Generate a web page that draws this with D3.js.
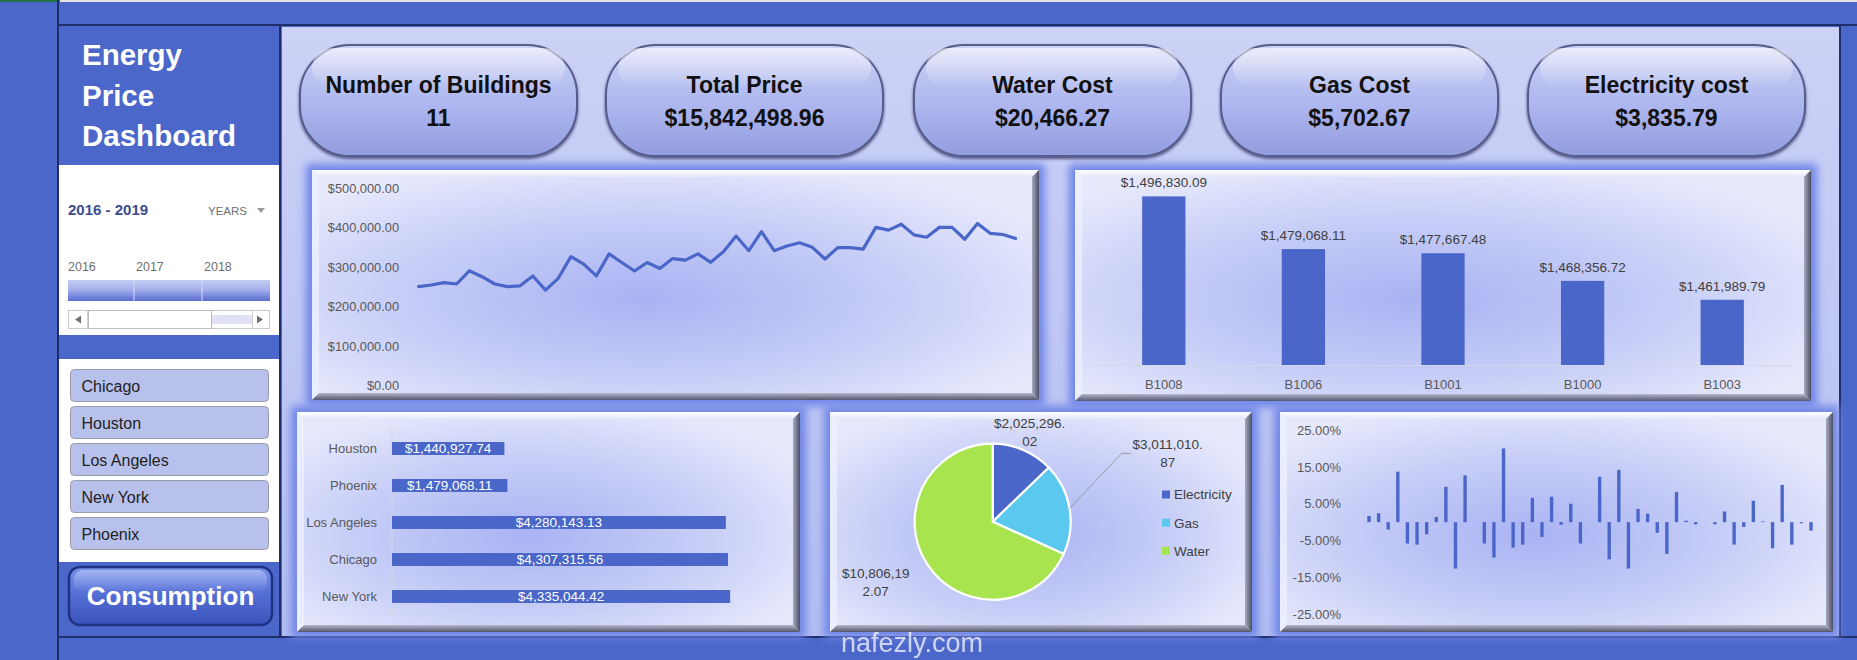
<!DOCTYPE html>
<html>
<head>
<meta charset="utf-8">
<script src="https://cdn.jsdelivr.net/npm/d3@7"></script>
<style>
    html, body { margin: 0; padding: 0; background: #4b67c9; overflow: hidden; }
    svg { display: block; }
    text { font-family: "Liberation Sans", Arial, sans-serif; }
</style>
</head>
<body>
<div id="dash"></div>
<script>
// ---------- data ----------
const kpiTitles = ["Number of Buildings", "Total Price", "Water Cost", "Gas Cost", "Electricity cost"];
const kpiValues = [11, 15842498.96, 20466.27, 5702.67, 3835.79];

const cityButtons = ["Chicago", "Houston", "Los Angeles", "New York", "Phoenix"];
const timelineYears = ["2016", "2017", "2018"];
const periodLabel = "2016 - 2019";

// monthly total price, Jan 2016 .. Dec 2019
const monthlyPrice = [
    251000, 255000, 261000, 257600, 291000, 276000, 257600, 251000, 253000, 278000, 242000, 272000,
    327000, 308000, 278000, 334000, 312000, 290500, 312000, 297000, 322000, 318000, 334000, 312500,
    339500, 379000, 342000, 390000, 342000, 354000, 362000, 350500, 321000, 349700, 349700, 346000,
    401000, 394000, 409000, 382000, 376000, 401000, 401000, 371000, 411000, 386000, 383000, 373000
];
const priceTicks = [0, 100000, 200000, 300000, 400000, 500000];

const buildings = ["B1008", "B1006", "B1001", "B1000", "B1003"];
const buildingPrice = [1496830.09, 1479068.11, 1477667.48, 1468356.72, 1461989.79];
const buildingRange = [1440000, 1500000];

const cities = ["Houston", "Phoenix", "Los Angeles", "Chicago", "New York"];
const cityPrice = [1440927.74, 1479068.11, 4280143.13, 4307315.56, 4335044.42];
const cityRange = [0, 5000000];

const costTypes = ["Electricity", "Gas", "Water"];
const costTotals = [2025296.02, 3011010.87, 10806192.07];
const costColors = ["#4a66c8", "#5bc9ef", "#a8e44e"];

// month over month change in %, Feb 2016 .. Dec 2019 (January left blank)
const monthlyChange = [
    1.7, 2.4, -2.0, 13.7, -5.8, -6.1, -3.3, 1.4, 9.6, -12.6, 12.7,
    0, -5.8, -9.6, 20.0, -6.9, -6.1, 6.6, -4.0, 6.9, -0.7, 5.0, -5.8,
    0, 12.3, -10.1, 14.2, -12.6, 3.6, 2.3, -2.9, -8.6, 8.2, 0.4, -0.6,
    0, -0.6, 2.9, -6.1, -1.3, 5.8, 0.2, -7.1, 10.1, -6.1, -0.3, -2.3
];
const changeTicks = [25, 15, 5, -5, -15, -25];

// ---------- setup ----------
const W = 1857, H = 660;
const blue = "#4a66c8";
const axisGray = "#595959";
// Excel writes a plain hyphen for negatives
const locale = d3.formatLocale({ decimal: ".", thousands: ",", grouping: [3], currency: ["$", ""], minus: "-" });
const money = locale.format("$,.2f");
const pct = d => locale.format(".2f")(d) + "%";

const svg = d3.select("#dash").append("svg")
    .attr("width", W)
    .attr("height", H);

const defs = svg.append("defs");

function linear(id, stops, vertical = true) {
    const g = defs.append("linearGradient").attr("id", id)
        .attr("x1", 0).attr("y1", 0)
        .attr("x2", vertical ? 0 : 1).attr("y2", vertical ? 1 : 0);
    stops.forEach(([o, c, op]) => g.append("stop").attr("offset", o).attr("stop-color", c)
        .attr("stop-opacity", op == null ? 1 : op));
}

linear("mainBg", [[0, "#ccd2f6"], [1, "#b3bdf1"]]);
linear("bevelTop", [[0, "#ffffff"], [1, "#e3e7fb"]]);
linear("bevelBottom", [[0, "#b4b7cf"], [1, "#535569"]]);
linear("bevelRight", [[0, "#a7aac3"], [1, "#4c4e62"]], false);
linear("kpiFill", [[0, "#ccd2f6"], [0.55, "#adb6ee"], [1, "#929ddf"]]);
linear("kpiGloss", [[0, "#ffffff", 0.6], [1, "#ffffff", 0]]);
linear("timelineFill", [[0, "#c6ccf3"], [0.45, "#a6b0ec"], [1, "#586dd0"]]);
linear("btnFill", [[0, "#7892ec"], [0.5, "#526dd4"], [1, "#3a53bb"]]);
linear("btnGloss", [[0, "#ffffff", 0.35], [1, "#ffffff", 0]]);

const rg = defs.append("radialGradient").attr("id", "panelFill")
    .attr("cx", 0.46).attr("cy", 0.56).attr("r", 0.62);
rg.append("stop").attr("offset", 0).attr("stop-color", "#a9b3f3");
rg.append("stop").attr("offset", 0.55).attr("stop-color", "#c6cdf7");
rg.append("stop").attr("offset", 1).attr("stop-color", "#e6e9fc");

defs.append("filter").attr("id", "glow")
    .attr("x", -0.1).attr("y", -0.1).attr("width", 1.2).attr("height", 1.2)
    .append("feGaussianBlur").attr("stdDeviation", 4);

defs.append("filter").attr("id", "cardShadow")
    .attr("x", -0.1).attr("y", -0.1).attr("width", 1.2).attr("height", 1.3)
    .append("feDropShadow").attr("dx", 0).attr("dy", 2).attr("stdDeviation", 1.6)
    .attr("flood-color", "#262c5c").attr("flood-opacity", 0.75);

// ---------- frame ----------
svg.append("rect").attr("width", W).attr("height", H).attr("fill", "#4b67c9");
svg.append("rect").attr("width", W).attr("height", 2).attr("fill", "#e4e4e4");
svg.append("rect").attr("width", 60).attr("height", 2).attr("fill", "#217346");

// main light area
svg.append("rect").attr("x", 282).attr("y", 27).attr("width", 1558).attr("height", 610)
    .attr("fill", "url(#mainBg)");

const frameLines = [
    [58, 0, 58, H], [58, 25, 1857, 25], [280, 25, 280, 637], [58, 637, 1857, 637], [1840, 25, 1840, 637]
];
svg.selectAll("line.frame").data(frameLines).join("line")
    .attr("class", "frame")
    .attr("x1", d => d[0]).attr("y1", d => d[1]).attr("x2", d => d[2]).attr("y2", d => d[3])
    .attr("stroke", "#1f2d6c").attr("stroke-width", 2);

// ---------- sidebar ----------
const side = svg.append("g");

side.selectAll("text.title").data(["Energy", "Price", "Dashboard"]).join("text")
    .attr("class", "title")
    .attr("x", 82).attr("y", (d, i) => 65 + i * 40.5)
    .attr("fill", "#fff").attr("font-size", 29.5).attr("font-weight", 700)
    .text(d => d);

side.append("rect").attr("x", 59).attr("y", 165).attr("width", 220).attr("height", 170).attr("fill", "#fff");
side.append("rect").attr("x", 59).attr("y", 359).attr("width", 220).attr("height", 203).attr("fill", "#fff");

side.append("text").attr("x", 68).attr("y", 215)
    .attr("font-size", 15).attr("font-weight", 700).attr("fill", "#3d4c8e")
    .text(periodLabel);
side.append("text").attr("x", 208).attr("y", 215)
    .attr("font-size", 11.5).attr("fill", "#707070").text("YEARS");
side.append("path").attr("d", "M257,208 L265,208 L261,213 Z").attr("fill", "#9a9a9a");

side.selectAll("text.year").data(timelineYears).join("text")
    .attr("class", "year")
    .attr("x", (d, i) => 68 + i * 68).attr("y", 271)
    .attr("font-size", 12.5).attr("fill", "#6f6f6f")
    .text(d => d);

side.append("rect").attr("x", 68).attr("y", 280).attr("width", 202).attr("height", 21)
    .attr("fill", "url(#timelineFill)");
side.selectAll("line.tdiv").data(timelineYears.slice(1)).join("line")
    .attr("class", "tdiv")
    .attr("x1", (d, i) => 134 + i * 68).attr("x2", (d, i) => 134 + i * 68)
    .attr("y1", 280).attr("y2", 301)
    .attr("stroke", "#d8dcf6").attr("stroke-width", 1);

// scrollbar
side.append("rect").attr("x", 68.5).attr("y", 310.5).attr("width", 201).attr("height", 18)
    .attr("fill", "#fff").attr("stroke", "#c9c9c9");
side.append("rect").attr("x", 212).attr("y", 315).attr("width", 40).attr("height", 9).attr("fill", "#dfe2f4");
side.append("rect").attr("x", 88.5).attr("y", 310.5).attr("width", 123).attr("height", 18)
    .attr("fill", "#fff").attr("stroke", "#bdbdbd");
side.append("line").attr("x1", 87.5).attr("x2", 87.5).attr("y1", 311).attr("y2", 328).attr("stroke", "#d0d0d0");
side.append("line").attr("x1", 252.5).attr("x2", 252.5).attr("y1", 311).attr("y2", 328).attr("stroke", "#d0d0d0");
side.append("path").attr("d", "M75,319.5 L81,315.5 L81,323.5 Z").attr("fill", "#707070");
side.append("path").attr("d", "M263,319.5 L257,315.5 L257,323.5 Z").attr("fill", "#707070");

// city slicer buttons
const btn = side.selectAll("g.city").data(cityButtons).join("g")
    .attr("class", "city")
    .attr("transform", (d, i) => `translate(70.5,${369.5 + i * 37})`);
btn.append("rect").attr("width", 198).attr("height", 32).attr("rx", 4)
    .attr("fill", "#b8c1ec").attr("stroke", "#9a9aa8");
btn.append("text").attr("x", 11).attr("y", 22)
    .attr("font-size", 16).attr("fill", "#222").text(d => d);

// consumption button
side.append("rect").attr("x", 69).attr("y", 567).attr("width", 203).attr("height", 58).attr("rx", 11)
    .attr("fill", "url(#btnFill)").attr("stroke", "#1f3385").attr("stroke-width", 2.5);
side.append("rect").attr("x", 74).attr("y", 570).attr("width", 193).attr("height", 22).attr("rx", 9)
    .attr("fill", "url(#btnGloss)");
side.append("text").attr("x", 170.5).attr("y", 605).attr("text-anchor", "middle")
    .attr("font-size", 26).attr("font-weight", 700).attr("fill", "#fff").text("Consumption");

// ---------- KPI cards ----------
const kpiX = [300, 606, 914, 1221, 1528];
const card = svg.selectAll("g.kpi").data(kpiTitles).join("g")
    .attr("class", "kpi")
    .attr("transform", (d, i) => `translate(${kpiX[i]},45)`);
card.append("rect").attr("width", 277).attr("height", 111).attr("rx", 50)
    .attr("fill", "url(#kpiFill)").attr("stroke", "#575d8c").attr("stroke-width", 2)
    .attr("filter", "url(#cardShadow)");
card.append("rect").attr("x", 12).attr("y", 3).attr("width", 253).attr("height", 40).attr("rx", 22)
    .attr("fill", "url(#kpiGloss)");
card.append("text").attr("x", 138.5).attr("y", 48).attr("text-anchor", "middle")
    .attr("font-size", 23).attr("font-weight", 700).attr("fill", "#111")
    .text(d => d);
card.append("text").attr("x", 138.5).attr("y", 81).attr("text-anchor", "middle")
    .attr("font-size", 23).attr("font-weight", 700).attr("fill", "#111")
    .text((d, i) => i === 0 ? d3.format(",")(kpiValues[i]) : money(kpiValues[i]));

// ---------- bevelled chart panels ----------
function panel(x, y, w, h) {
    const g = svg.append("g");
    const b = 7;
    g.append("rect").attr("x", x - 6).attr("y", y - 6).attr("width", w + 12).attr("height", h + 12)
        .attr("fill", "#7086e8").attr("filter", "url(#glow)");
    g.append("rect").attr("x", x).attr("y", y).attr("width", w).attr("height", h)
        .attr("fill", "url(#panelFill)");
    g.append("path").attr("d", `M${x},${y}H${x + w}L${x + w - b},${y + b}H${x + b}Z`).attr("fill", "url(#bevelTop)");
    g.append("path").attr("d", `M${x},${y}L${x + b},${y + b}V${y + h - b}L${x},${y + h}Z`)
        .attr("fill", "#eef0fd").attr("opacity", 0.75);
    g.append("path").attr("d", `M${x},${y + h}L${x + b},${y + h - b}H${x + w - b}L${x + w},${y + h}Z`)
        .attr("fill", "url(#bevelBottom)");
    g.append("path").attr("d", `M${x + w},${y}V${y + h}L${x + w - b},${y + h - b}V${y + b}Z`)
        .attr("fill", "url(#bevelRight)");
    return g;
}

panel(312, 170, 727, 230);
panel(1075, 170, 736, 231);
panel(297, 412, 503, 220);
panel(830, 412, 422, 220);
panel(1280, 412, 553, 220);

function styleAxis(g, size) {
    g.select(".domain").remove();
    g.selectAll("text").attr("fill", axisGray).attr("font-size", size)
        .attr("font-family", '"Liberation Sans", Arial, sans-serif');
}

// ---------- line chart: monthly total price ----------
{
    const x = d3.scalePoint(d3.range(monthlyPrice.length), [418.5, 1015.6]);
    const y = d3.scaleLinear([0, 500000], [385.7, 188.3]);

    svg.append("g").attr("transform", "translate(399,0)")
        .call(d3.axisLeft(y).tickValues(priceTicks).tickFormat(money).tickSize(0).tickPadding(0))
        .call(g => styleAxis(g, 12.8));

    svg.append("path").datum(monthlyPrice)
        .attr("fill", "none").attr("stroke", blue).attr("stroke-width", 3.2)
        .attr("stroke-linejoin", "round").attr("stroke-linecap", "round")
        .attr("d", d3.line().x((d, i) => x(i)).y(d => y(d)));
}

// ---------- column chart: top buildings ----------
{
    const x = d3.scaleBand(buildings, [1094, 1792]).paddingInner(0.69).paddingOuter(0.345);
    const y = d3.scaleLinear(buildingRange, [365, 187]);

    svg.selectAll("rect.bld").data(buildings).join("rect")
        .attr("class", "bld")
        .attr("x", d => x(d)).attr("width", x.bandwidth())
        .attr("y", (d, i) => y(buildingPrice[i]))
        .attr("height", (d, i) => y(buildingRange[0]) - y(buildingPrice[i]))
        .attr("fill", blue);

    svg.selectAll("text.bldLabel").data(buildings).join("text")
        .attr("class", "bldLabel")
        .attr("x", d => x(d) + x.bandwidth() / 2)
        .attr("y", (d, i) => y(buildingPrice[i]) - 9)
        .attr("text-anchor", "middle").attr("font-size", 13.5).attr("fill", "#404040")
        .text((d, i) => money(buildingPrice[i]));

    const ax = svg.append("g").attr("transform", "translate(0,365)")
        .call(d3.axisBottom(x).tickSize(0).tickPadding(15));
    ax.select(".domain").attr("stroke", "#d4d7e6");
    ax.selectAll("text").attr("fill", axisGray).attr("font-size", 13)
        .attr("font-family", '"Liberation Sans", Arial, sans-serif');
}

// ---------- horizontal bars: price by city ----------
{
    const y = d3.scaleBand(cities, [430, 615]).paddingInner(0.65).paddingOuter(0.325);
    const x = d3.scaleLinear(cityRange, [392, 782]);

    const ax = svg.append("g").attr("transform", "translate(391.5,0)")
        .call(d3.axisLeft(y).tickSize(0).tickPadding(14.5));
    ax.select(".domain").attr("stroke", "#d4d7e6");
    ax.selectAll("text").attr("fill", axisGray).attr("font-size", 13)
        .attr("font-family", '"Liberation Sans", Arial, sans-serif');

    // category separator ticks
    svg.selectAll("line.cityTick").data(d3.range(cities.length + 1)).join("line")
        .attr("class", "cityTick")
        .attr("x1", 387).attr("x2", 391.5)
        .attr("y1", d => 430 + d * y.step()).attr("y2", d => 430 + d * y.step())
        .attr("stroke", "#d4d7e6");

    svg.selectAll("rect.city").data(cities).join("rect")
        .attr("class", "city")
        .attr("x", x(0)).attr("y", d => y(d))
        .attr("width", (d, i) => x(cityPrice[i]) - x(0)).attr("height", y.bandwidth())
        .attr("fill", blue);

    svg.selectAll("text.cityLabel").data(cities).join("text")
        .attr("class", "cityLabel")
        .attr("x", (d, i) => (x(0) + x(cityPrice[i])) / 2)
        .attr("y", d => y(d) + y.bandwidth() / 2).attr("dy", "0.36em")
        .attr("text-anchor", "middle").attr("font-size", 13.5).attr("fill", "#fff")
        .text((d, i) => money(cityPrice[i]));
}

// ---------- pie: cost split ----------
{
    const cx = 992.7, cy = 521.7, r = 78;
    const arcs = d3.pie().sort(null)(costTotals);
    const arc = d3.arc().innerRadius(0).outerRadius(r);
    const g = svg.append("g").attr("transform", `translate(${cx},${cy})`);

    g.selectAll("path").data(arcs).join("path")
        .attr("d", arc)
        .attr("fill", (d, i) => costColors[i])
        .attr("stroke", "#fff").attr("stroke-width", 2.2);

    // label placement relative to the centre, and the wrap point Excel used
    const labelPos = [[37, -94], [175, -73], [-117, 56]];
    const wrapAt = [11, 11, 10];

    // leader line for the gas label
    const edge = d3.arc().innerRadius(r).outerRadius(r).centroid(arcs[1]);
    g.append("path")
        .attr("d", `M${edge[0]},${edge[1]}L${1121.7 - cx},${453.3 - cy}H${1131 - cx}`)
        .attr("fill", "none").attr("stroke", "#8c8c8c").attr("stroke-width", 0.8);

    const lbl = g.selectAll("text.pieLabel").data(arcs).join("text")
        .attr("class", "pieLabel")
        .attr("x", (d, i) => labelPos[i][0]).attr("y", (d, i) => labelPos[i][1])
        .attr("text-anchor", "middle").attr("font-size", 13.5).attr("fill", "#404040");
    lbl.each(function (d, i) {
        const s = money(d.data);
        const t = d3.select(this);
        t.append("tspan").attr("x", labelPos[i][0]).text(s.slice(0, wrapAt[i]));
        t.append("tspan").attr("x", labelPos[i][0]).attr("dy", 18).text(s.slice(wrapAt[i]));
    });

    const leg = svg.selectAll("g.leg").data(costTypes).join("g")
        .attr("class", "leg")
        .attr("transform", (d, i) => `translate(1162,${494.5 + i * 28.2})`);
    leg.append("rect").attr("x", 0).attr("y", -4).attr("width", 8).attr("height", 8)
        .attr("fill", (d, i) => costColors[i]);
    leg.append("text").attr("x", 12).attr("y", 4.8)
        .attr("font-size", 13.5).attr("fill", "#404040").text(d => d);
}

// ---------- columns: monthly % change ----------
{
    const x = d3.scaleBand(d3.range(monthlyChange.length), [1364.2, 1815.8]).paddingInner(0.65).paddingOuter(0.325);
    const y = d3.scaleLinear([-25, 25], [614.3, 430]);

    svg.append("g").attr("transform", "translate(1341,0)")
        .call(d3.axisLeft(y).tickValues(changeTicks).tickFormat(pct).tickSize(0).tickPadding(0))
        .call(g => styleAxis(g, 13));

    svg.selectAll("rect.chg").data(monthlyChange).join("rect")
        .attr("class", "chg")
        .attr("x", (d, i) => x(i)).attr("width", x.bandwidth())
        .attr("y", d => y(Math.max(0, d)))
        .attr("height", d => Math.abs(y(d) - y(0)))
        .attr("fill", blue);
}

// ---------- watermark ----------
svg.append("text").attr("x", 912).attr("y", 652).attr("text-anchor", "middle")
    .attr("font-family", '"DejaVu Sans", sans-serif')
    .attr("font-size", 27).attr("fill", "#ffffff").attr("opacity", 0.72)
    .text("nafezly.com");
</script>
</body>
</html>
